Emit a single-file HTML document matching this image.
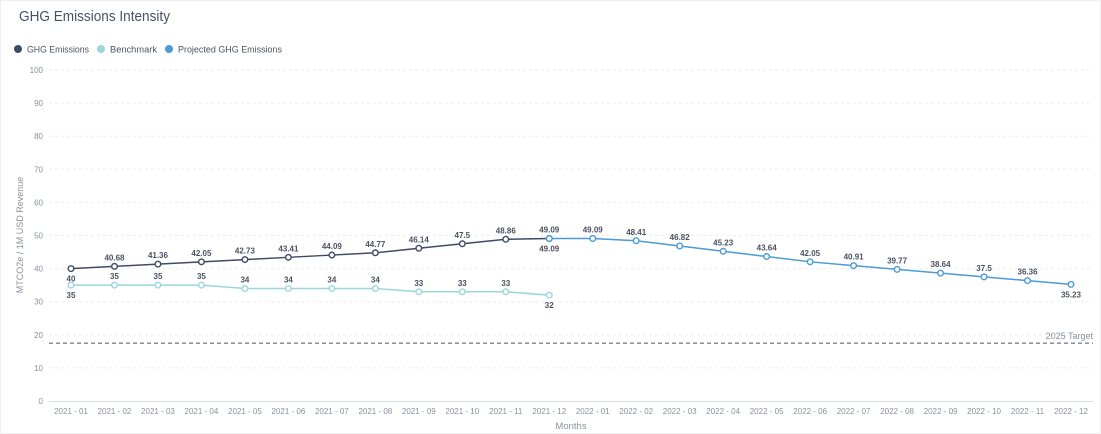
<!DOCTYPE html>
<html><head><meta charset="utf-8"><style>
body{margin:0;background:#fff;font-family:"Liberation Sans",sans-serif;}
#wrap{position:relative;width:1101px;height:434px;overflow:hidden;}
</style></head><body>
<div id="wrap">
<svg id="chart" width="1101" height="434">
<rect x="0.5" y="0.5" width="1100" height="433" fill="#fff" stroke="#f0f0f0"/>
<text x="19" y="21" font-size="15" fill="#4a5160" textLength="151" lengthAdjust="spacingAndGlyphs">GHG Emissions Intensity</text>
<g font-size="9.5" fill="#4a5160">
<g><circle cx="18" cy="49" r="4" fill="#3f4a66"/><text x="27" y="52.5" textLength="62" lengthAdjust="spacingAndGlyphs">GHG Emissions</text></g>
<g><circle cx="101" cy="49" r="4" fill="#9ad7dc"/><text x="110" y="52.5" textLength="47" lengthAdjust="spacingAndGlyphs">Benchmark</text></g>
<g><circle cx="169" cy="49" r="4" fill="#4b9bd5"/><text x="178" y="52.5" textLength="104" lengthAdjust="spacingAndGlyphs">Projected GHG Emissions</text></g>
</g>
<g id="grid"></g>
<g id="marks"></g>
<text transform="translate(23,235) rotate(-90)" text-anchor="middle" font-size="9" fill="#8a90a0">MTCO2e / 1M USD Revenue</text>
<text x="571" y="429" text-anchor="middle" font-size="9.5" fill="#8a90a0">Months</text>
</svg>
</div>
<script>
const categories=["2021 - 01","2021 - 02","2021 - 03","2021 - 04","2021 - 05","2021 - 06","2021 - 07","2021 - 08","2021 - 09","2021 - 10","2021 - 11","2021 - 12","2022 - 01","2022 - 02","2022 - 03","2022 - 04","2022 - 05","2022 - 06","2022 - 07","2022 - 08","2022 - 09","2022 - 10","2022 - 11","2022 - 12"];
const ghgValues=[40,40.68,41.36,42.05,42.73,43.41,44.09,44.77,46.14,47.5,48.86,49.09,null,null,null,null,null,null,null,null,null,null,null,null];
const benchmarkValues=[35,35,35,35,34,34,34,34,33,33,33,32,null,null,null,null,null,null,null,null,null,null,null,null];
const projectedValues=[null,null,null,null,null,null,null,null,null,null,null,49.09,49.09,48.41,46.82,45.23,43.64,42.05,40.91,39.77,38.64,37.5,36.36,35.23];
const yTicks=[0,10,20,30,40,50,60,70,80,90,100];
const targetValue=17.5;
const targetLabel="2025 Target";

const NS="http://www.w3.org/2000/svg";
const x=i=>71+i*(1000/23);
const y=v=>401-v*3.31;
const grid=document.getElementById('grid'),marks=document.getElementById('marks');
function mk(tag,attrs,parent,text){const e=document.createElementNS(NS,tag);for(const k in attrs)e.setAttribute(k,attrs[k]);if(text!==undefined)e.textContent=text;parent.appendChild(e);return e;}
yTicks.forEach(t=>{
  if(t>0){const l=mk('line',{x1:49,x2:1093,y1:y(t),y2:y(t),stroke:'#eceef2','stroke-dasharray':'3,3'},grid);
  
  }
  const tx=mk('text',{x:43,y:y(t)+3,'text-anchor':'end','font-size':8,fill:'#8a90a0'},grid,String(t));
  
  
});
const ax=mk('line',{x1:49,x2:1093,y1:401.5,y2:401.5,stroke:'#d8dbe0'},grid);


categories.forEach((c,i)=>{
  const tx=mk('text',{x:x(i),y:414,'text-anchor':'middle','font-size':8,fill:'#8a90a0'},grid,c);
  
  
});
const tl=mk('line',{x1:49,x2:1093,y1:y(targetValue),y2:y(targetValue),stroke:'#555','stroke-dasharray':'4,3'},grid);


const tt=mk('text',{x:1093,y:y(targetValue)-4,'text-anchor':'end','font-size':9,fill:'#8a90a0'},grid,targetLabel);



function series(vals,color,name,labelPos){
  const g=mk('g',{},marks);
  
  
  let d='';vals.forEach((v,i)=>{if(v!==null)d+=(d?'L':'M')+x(i)+','+y(v);});
  const p=mk('path',{d:d,fill:'none',stroke:color,'stroke-width':1.5},g);
  
  
  vals.forEach((v,i)=>{if(v===null)return;
    const c=mk('circle',{cx:x(i),cy:y(v),r:2.8,fill:'#fff',stroke:color,'stroke-width':1.4},g);
    
    
    const below=labelPos(i);
    const t=mk('text',{x:x(i),y:below?y(v)+13:y(v)-6,'text-anchor':'middle','font-size':8,'font-weight':'bold',fill:'#4a5160'},g,String(v));
    
    
  });
}
const last=projectedValues.length-1;
series(benchmarkValues,'#9ad7dc','benchmark',i=>i===0||i===11);
series(ghgValues,'#3f4a66','ghg',i=>i===0);
series(projectedValues,'#4b9bd5','projected',i=>i===11||i===last);
</script>
</body></html>
